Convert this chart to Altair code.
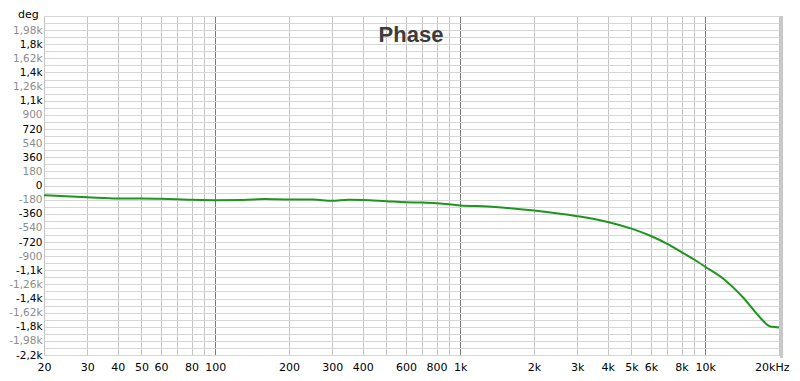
import altair as alt
import pandas as pd

# ---- data ----
freq_hz = [20, 30, 40, 50, 60, 80, 100, 130, 160, 200, 250, 300, 350, 400, 500,
           600, 700, 800, 900, 1000, 1300, 2000, 3000, 4000, 5000, 6000, 7000,
           8000, 9000, 10000, 11850, 14300, 16700, 18400, 19200, 20000]
phase_deg = [-124, -149, -166, -166, -169, -182, -187, -184, -172, -178, -178, -195,
             -182, -184, -200, -213, -217, -225, -238, -255, -268, -319, -391,
             -465, -550, -643, -743, -848, -943, -1035, -1188, -1430, -1678,
             -1796, -1802, -1809]

x_grid_values = [20, 30, 40, 50, 60, 70, 80, 90,
                 100, 200, 300, 400, 500, 600, 700, 800, 900,
                 1000, 2000, 3000, 4000, 5000, 6000, 7000, 8000, 9000,
                 10000, 20000]
x_label_values = [20, 30, 40, 50, 60, 80, 100, 200, 300, 400, 600, 800,
                  1000, 2000, 3000, 4000, 5000, 6000, 8000, 10000, 20000]
x_label_texts = ["20", "30", "40", "50", "60", "80", "100", "200", "300", "400",
                 "600", "800", "1k", "2k", "3k", "4k", "5k", "6k", "8k", "10k",
                 "20kHz"]
x_decades = [100, 1000, 10000]

y_grid_values = list(range(-2160, 2161, 90))
y_label_values = [1980, 1800, 1620, 1440, 1260, 1080, 900, 720, 540, 360, 180, 0,
                  -180, -360, -540, -720, -900, -1080, -1260, -1440, -1620,
                  -1800, -1980, -2160]
y_label_texts = ["1,98k", "1,8k", "1,62k", "1,4k", "1,26k", "1,1k", "900", "720",
                 "540", "360", "180", "0", "-180", "-360", "-540", "-720", "-900",
                 "-1,1k", "-1,26k", "-1,4k", "-1,62k", "-1,8k", "-1,98k", "-2,2k"]

title_text = "Phase"
y_unit = "deg"

df = pd.DataFrame({"f": freq_hz, "p": phase_deg})


def chain(values, texts):
    expr = "''"
    for v, t in reversed(list(zip(values, texts))):
        expr = f"datum.value == {v} ? '{t}' : ({expr})"
    return expr


x_label_expr = chain(x_label_values, x_label_texts)
y_label_expr = chain(y_label_values, y_label_texts)
decade_test = " || ".join(f"datum.value == {d}" for d in x_decades)
last_x = x_label_values[-1]

W, H = 735, 339
FONT = "DejaVu Sans"

x_scale = alt.Scale(type="log", domain=[20, 20000], nice=False)
y_scale = alt.Scale(domain=[-2160, 2160], nice=False, zero=False)

line = alt.Chart(df).mark_line(
    color="#1e961e", strokeWidth=2, interpolate="monotone"
).encode(
    x=alt.X("f:Q", scale=x_scale, axis=alt.Axis(
        values=x_grid_values, labelExpr=x_label_expr, title=None,
        ticks=False, domain=False, labelFlush=False, labelOverlap=False,
        labelAlign={"expr": f"datum.value == {last_x} ? 'right' : 'center'"},
        labelOffset={"expr": f"datum.value == {last_x} ? 10 : 0"},
        labelPadding=6, labelFont=FONT, labelFontSize=11, labelColor="#000000",
        grid=True, gridColor={"expr": f"({decade_test}) ? '#7a7a7a' : '#c4c4c4'"},
        gridWidth=1)),
    y=alt.Y("p:Q", scale=y_scale, axis=alt.Axis(
        values=y_grid_values, labelExpr=y_label_expr, title=None,
        ticks=False, domain=False, labelOverlap=False, labelFlush=False,
        labelPadding=2, labelFont=FONT, labelFontSize=10.5,
        labelColor={"expr": "abs(datum.value) % 360 == 0 ? '#000000' : '#8c8c8c'"},
        grid=True, gridColor="#d6d6d6", gridWidth=1)),
)

title_mark = alt.Chart(pd.DataFrame({"t": [title_text]})).mark_text(
    font="Liberation Sans", fontSize=22, fontWeight="bold", color="#3c3c3c",
    align="center", baseline="alphabetic"
).encode(x=alt.value(367), y=alt.value(26), text="t:N")

unit_mark = alt.Chart(pd.DataFrame({"t": [y_unit]})).mark_text(
    font=FONT, fontSize=11, color="#000000", align="left", baseline="middle"
).encode(x=alt.value(-26), y=alt.value(-1), text="t:N")

shadow_r = alt.Chart(pd.DataFrame({"a": [0]})).mark_rule(
    color="#c8c8c8", strokeWidth=3
).encode(x=alt.value(W + 2.5), y=alt.value(0), y2=alt.value(H + 3))

chart = alt.layer(line, title_mark, unit_mark, shadow_r).properties(
    width=W, height=H,
    autosize=alt.AutoSizeParams(type="none"),
    padding={"left": 36, "top": 8, "right": 13, "bottom": 18},
).configure_view(
    stroke="#a4a4a4", strokeWidth=2
).configure(background="#ffffff")

chart.save("out.html", embed_options={"renderer": "svg", "actions": False})
